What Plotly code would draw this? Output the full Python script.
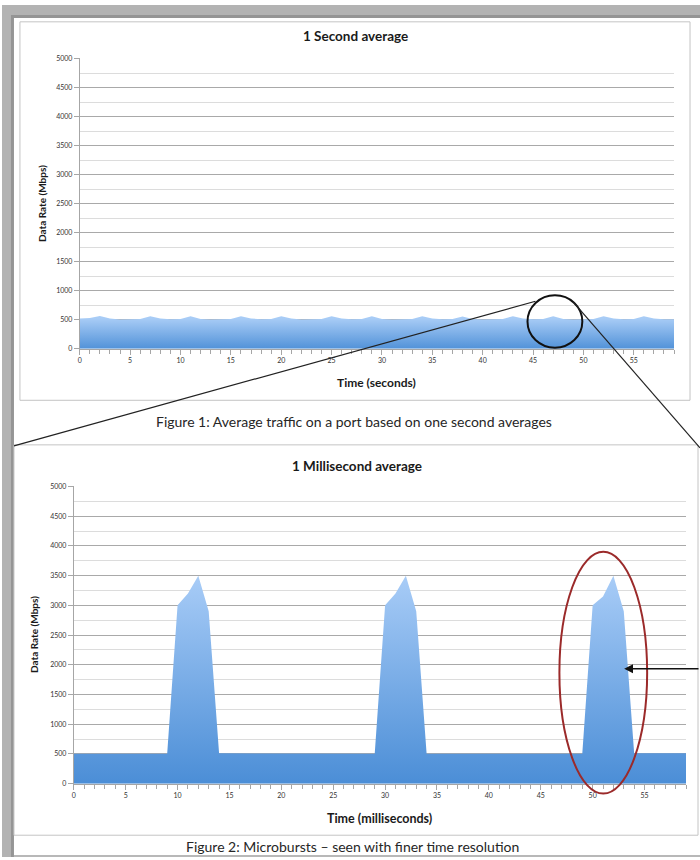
import plotly.graph_objects as go

# ---------------- data ----------------
seconds = list(range(60))
rate_1s = [520, 530, 565, 520, 505, 510, 515, 560, 520, 510,
           515, 560, 515, 505, 510, 515, 560, 520, 510, 515,
           560, 520, 505, 510, 515, 560, 520, 510, 515, 560,
           515, 505, 510, 515, 560, 520, 510, 515, 555, 515,
           505, 510, 515, 560, 520, 510, 515, 560, 515, 505,
           510, 515, 560, 520, 510, 515, 560, 520, 510, 510]

millis = list(range(60))
rate_1ms = [505, 505, 505, 505, 505, 505, 505, 505, 505, 505,
            3000, 3200, 3500, 2900, 510, 510, 505, 500, 500, 500,
            500, 500, 500, 500, 500, 505, 505, 505, 505, 505,
            3000, 3200, 3500, 2900, 505, 505, 505, 505, 505, 505,
            510, 510, 510, 510, 505, 505, 505, 505, 505, 505,
            3000, 3150, 3500, 2900, 510, 510, 510, 510, 510, 510]

y_tickvals = [0, 500, 1000, 1500, 2000, 2500, 3000, 3500, 4000, 4500, 5000]
y_ticktext = ["0", "500", "1000", "1500", "2000", "2500", "3000", "3500", "4000", "4500", "5000"]
x_tickvals = [0, 5, 10, 15, 20, 25, 30, 35, 40, 45, 50, 55]
x_ticktext = ["0", "5", "10", "15", "20", "25", "30", "35", "40", "45", "50", "55"]

title_top = "1 Second average"
title_bottom = "1 Millisecond average"
xtitle_top = "Time (seconds)"
xtitle_bottom = "Time (milliseconds)"
ytitle = "Data Rate (Mbps)"
caption1 = "Figure 1: Average traffic on a port based on one second averages"
caption2 = "Figure 2: Microbursts \u2013 seen with finer time resolution"

W, H = 700, 860
FONT = "Lato"


def PX(x):
    return x / W


def PY(y):
    return 1 - y / H


fig = go.Figure()

fig.add_trace(go.Scatter(
    x=seconds, y=rate_1s, mode="lines", fill="tozeroy",
    line=dict(width=0, color="rgba(0,0,0,0)"),
    fillgradient=dict(type="vertical", start=0, stop=565,
                      colorscale=[[0, "#4a8dd6"], [1, "#a8ccf6"]]),
    xaxis="x", yaxis="y", hoverinfo="skip", showlegend=False))

fig.add_trace(go.Scatter(
    x=millis, y=rate_1ms, mode="lines", fill="tozeroy",
    line=dict(width=0, color="rgba(0,0,0,0)"),
    fillgradient=dict(type="vertical", start=0, stop=3500,
                      colorscale=[[0, "#4a8dd6"], [1, "#a8ccf7"]]),
    xaxis="x2", yaxis="y2", hoverinfo="skip", showlegend=False))

axis_common_y = dict(
    range=[0, 5000], tickvals=y_tickvals, ticktext=y_ticktext,
    showgrid=True, gridcolor="#a9a9a9", gridwidth=1,
    minor=dict(dtick=250, tick0=0, showgrid=True, gridcolor="#dcdcdc", gridwidth=1),
    showline=True, linecolor="#a6a6a6", linewidth=1,
    ticks="outside", ticklen=5, tickcolor="#a6a6a6",
    tickfont=dict(family=FONT, size=7, color="#333333"),
    zeroline=False, fixedrange=True)

axis_common_x = dict(
    range=[0, 59], tickvals=x_tickvals, ticktext=x_ticktext,
    showgrid=False, zeroline=False,
    showline=True, linecolor="#a6a6a6", linewidth=1,
    ticks="outside", ticklen=5, tickcolor="#a6a6a6",
    minor=dict(dtick=1, tick0=0, ticks="outside", ticklen=4, tickcolor="#a6a6a6"),
    tickfont=dict(family=FONT, size=7, color="#333333"),
    fixedrange=True)

shapes = []
# page background & frame
shapes.append(dict(type="rect", xref="paper", yref="paper", x0=0, x1=1, y0=0, y1=1,
                   fillcolor="#b3b3b3", line=dict(width=0), layer="below"))
shapes.append(dict(type="rect", xref="paper", yref="paper", x0=PX(9), x1=1, y0=0, y1=PY(10),
                   fillcolor="#959595", line=dict(width=0), layer="below"))
shapes.append(dict(type="rect", xref="paper", yref="paper", x0=PX(12), x1=1, y0=0, y1=PY(13),
                   fillcolor="#ffffff", line=dict(width=0), layer="below"))
# top chart box
shapes.append(dict(type="rect", xref="paper", yref="paper", x0=PX(18), x1=PX(690), y0=PY(399), y1=PY(17),
                   fillcolor="#ffffff", line=dict(width=1, color="#c4c4c4"), layer="below"))
# bottom chart box
shapes.append(dict(type="rect", xref="paper", yref="paper", x0=PX(12), x1=PX(698), y0=PY(838), y1=PY(444),
                   fillcolor="#ffffff", line=dict(width=1, color="#c4c4c4"), layer="below"))
# bottom edge line
shapes.append(dict(type="line", xref="paper", yref="paper", x0=PX(12), x1=1, y0=PY(859), y1=PY(859),
                   line=dict(width=1.5, color="#a0a0a0"), layer="below"))
# zoom circle on top chart
shapes.append(dict(type="circle", xref="paper", yref="paper",
                   x0=PX(527), x1=PX(582), y0=PY(346), y1=PY(293),
                   line=dict(width=2, color="#111111"), layer="above"))
# connecting lines
shapes.append(dict(type="line", xref="paper", yref="paper", x0=PX(535), y0=PY(299), x1=PX(12), y1=PY(445),
                   line=dict(width=1.2, color="#222222"), layer="above"))
shapes.append(dict(type="line", xref="paper", yref="paper", x0=PX(573), y0=PY(300), x1=PX(700), y1=PY(447),
                   line=dict(width=1.2, color="#222222"), layer="above"))
# red ellipse on bottom chart
shapes.append(dict(type="circle", xref="paper", yref="paper",
                   x0=PX(559), x1=PX(647), y0=PY(796), y1=PY(552),
                   line=dict(width=2, color="#9b2a2a"), layer="above"))

annotations = [
    dict(text="<b>" + title_top + "</b>", x=PX(355), y=PY(31), xref="paper", yref="paper",
         showarrow=False, font=dict(family=FONT, size=13.5, color="#1a1a1a"), xanchor="center", yanchor="middle"),
    dict(text="<b>" + xtitle_top + "</b>", x=PX(376), y=PY(381), xref="paper", yref="paper",
         showarrow=False, font=dict(family=FONT, size=12, color="#1a1a1a"), xanchor="center", yanchor="middle"),
    dict(text="<b>" + ytitle + "</b>", x=PX(40), y=PY(200), xref="paper", yref="paper", textangle=-90,
         showarrow=False, font=dict(family=FONT, size=10, color="#1a1a1a"), xanchor="center", yanchor="middle"),
    dict(text=caption1, x=PX(353), y=PY(420), xref="paper", yref="paper",
         showarrow=False, font=dict(family=FONT, size=14, color="#262626"), xanchor="center", yanchor="middle"),
    dict(text="<b>" + title_bottom + "</b>", x=PX(356), y=PY(465), xref="paper", yref="paper",
         showarrow=False, font=dict(family=FONT, size=13.5, color="#1a1a1a"), xanchor="center", yanchor="middle"),
    dict(text="<b>" + xtitle_bottom + "</b>", x=PX(379), y=PY(821), xref="paper", yref="paper",
         showarrow=False, font=dict(family=FONT, size=12.5, color="#1a1a1a"), xanchor="center", yanchor="middle"),
    dict(text="<b>" + ytitle + "</b>", x=PX(32), y=PY(635), xref="paper", yref="paper", textangle=-90,
         showarrow=False, font=dict(family=FONT, size=10, color="#1a1a1a"), xanchor="center", yanchor="middle"),
    dict(text=caption2, x=PX(352), y=PY(849), xref="paper", yref="paper",
         showarrow=False, font=dict(family=FONT, size=14, color="#262626"), xanchor="center", yanchor="middle"),
    # arrow pointing at the burst
    dict(text="", x=PX(624), y=PY(670), xref="paper", yref="paper",
         ax=76, ay=0, axref="pixel", ayref="pixel", showarrow=True,
         arrowhead=2, arrowsize=1.1, arrowwidth=1.6, arrowcolor="#111111"),
]

fig.update_layout(
    width=W, height=H,
    margin=dict(l=0, r=0, t=0, b=0),
    paper_bgcolor="#ffffff", plot_bgcolor="rgba(0,0,0,0)",
    showlegend=False,
    xaxis=dict(domain=[PX(78), PX(674)], anchor="y", **axis_common_x),
    yaxis=dict(domain=[PY(347), PY(54)], anchor="x", **axis_common_y),
    xaxis2=dict(domain=[PX(72), PX(686)], anchor="y2", **axis_common_x),
    yaxis2=dict(domain=[PY(786), PY(486)], anchor="x2", **axis_common_y),
    shapes=shapes, annotations=annotations,
)

fig.write_html("out.html", config={"displayModeBar": False},
               post_script="document.body.style.margin='0';document.body.style.padding='0';")
